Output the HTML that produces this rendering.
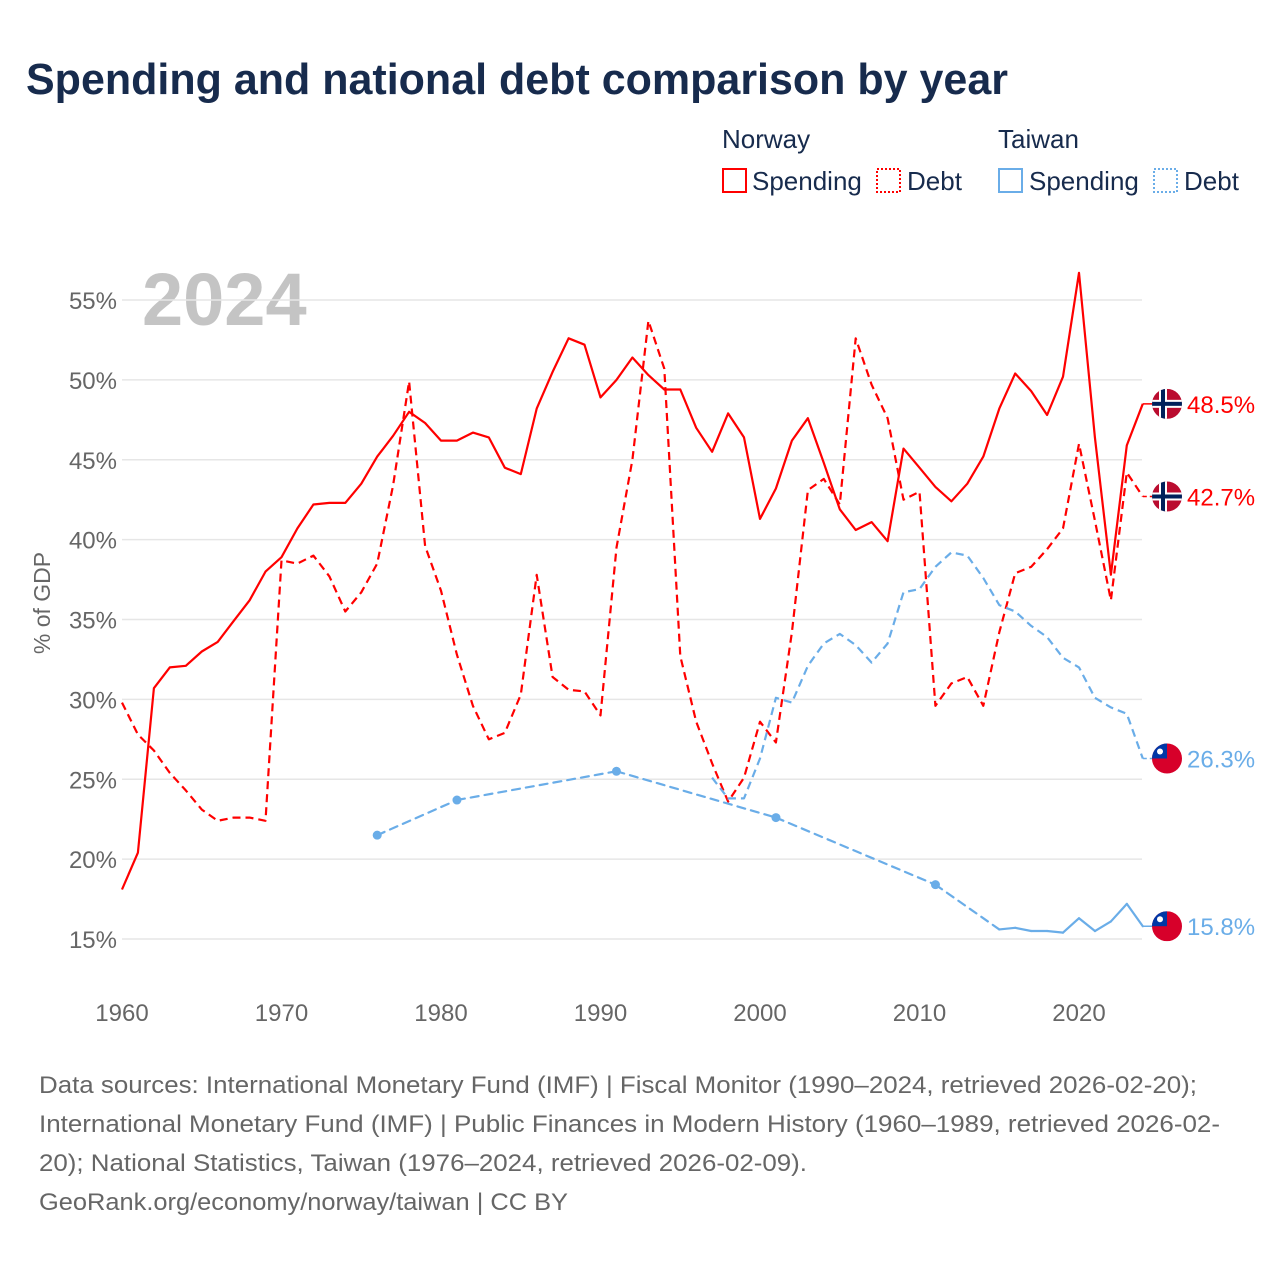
<!DOCTYPE html>
<html><head><meta charset="utf-8"><style>
body{margin:0;background:#fff;}
svg text{font-family:"Liberation Sans","Noto Sans CJK TC",sans-serif;}
</style></head><body>
<svg id="chart" width="1280" height="1280" viewBox="0 0 1280 1280" xmlns="http://www.w3.org/2000/svg">
<text x="26" y="94" font-size="44" font-weight="bold" fill="#172b4d" textLength="982" lengthAdjust="spacingAndGlyphs">Spending and national debt comparison by year</text>
<g font-size="26" fill="#172b4d">
<text x="722" y="148">Norway</text>
<text x="998" y="148">Taiwan</text>
<g><rect x="723" y="169" width="23" height="23" fill="none" stroke="#f00" stroke-width="2"/><text x="752" y="190">Spending</text></g>
<g><rect x="877" y="169" width="23" height="23" fill="none" stroke="#f00" stroke-width="2" stroke-dasharray="2,2"/><text x="907" y="190">Debt</text></g>
<g><rect x="999" y="169" width="23" height="23" fill="none" stroke="#6aade8" stroke-width="2"/><text x="1029" y="190">Spending</text></g>
<g><rect x="1154" y="169" width="23" height="23" fill="none" stroke="#6aade8" stroke-width="2" stroke-dasharray="2,2"/><text x="1184" y="190">Debt</text></g>
</g>
<text x="142" y="325" font-size="74" font-weight="bold" fill="#c4c4c4">2024</text>
<g id="grid"></g>
<g id="series"></g>
<g id="ends"></g>
<text transform="translate(50,603) rotate(-90)" text-anchor="middle" font-size="23" fill="#666">% of GDP</text>
<g font-size="24" fill="#666">
<text x="39" y="1093" textLength="1158" lengthAdjust="spacingAndGlyphs">Data sources: International Monetary Fund (IMF) | Fiscal Monitor (1990–2024, retrieved 2026-02-20);</text>
<text x="39" y="1132" textLength="1181" lengthAdjust="spacingAndGlyphs">International Monetary Fund (IMF) | Public Finances in Modern History (1960–1989, retrieved 2026-02-</text>
<text x="39" y="1171" textLength="768" lengthAdjust="spacingAndGlyphs">20); National Statistics, Taiwan (1976–2024, retrieved 2026-02-09).</text>
<text x="39" y="1210" textLength="529" lengthAdjust="spacingAndGlyphs">GeoRank.org/economy/norway/taiwan | CC BY</text>
</g>
</svg>
<script>
const yTicks=[15,20,25,30,35,40,45,50,55];
const xTicks=[1960,1970,1980,1990,2000,2010,2020];
const norSpendYears=[];for(let y=1960;y<=2024;y++)norSpendYears.push(y);
const norSpending=[18.1,20.4,30.7,32.0,32.1,33.0,33.6,34.9,36.2,38.0,38.9,40.7,42.2,42.3,42.3,43.5,45.2,46.5,48.0,47.3,46.2,46.2,46.7,46.4,44.5,44.1,48.2,50.5,52.6,52.2,48.9,50.0,51.4,50.3,49.4,49.4,47.0,45.5,47.9,46.4,41.3,43.2,46.2,47.6,44.8,41.9,40.6,41.1,39.9,45.7,44.5,43.3,42.4,43.5,45.2,48.2,50.4,49.3,47.8,50.2,56.7,46.4,37.8,45.9,48.5];
const norDebt=[29.8,27.8,26.8,25.4,24.3,23.1,22.4,22.6,22.6,22.4,38.7,38.5,39.0,37.7,35.5,36.7,38.5,43.4,49.9,39.6,36.8,32.8,29.6,27.5,27.9,30.3,37.8,31.4,30.6,30.5,29.0,39.5,45.0,53.7,50.7,32.7,28.6,26.0,23.6,25.1,28.6,27.3,34.2,43.1,43.8,42.2,52.6,49.7,47.6,42.5,43.0,29.6,31.0,31.4,29.6,34.2,37.9,38.3,39.4,40.7,46.0,41.2,36.2,44.2,42.7];
const twDebtYears=[];for(let y=1997;y<=2024;y++)twDebtYears.push(y);
const twDebt=[25.1,23.8,23.8,26.3,30.1,29.8,32.1,33.5,34.1,33.4,32.3,33.5,36.7,36.9,38.3,39.2,39.0,37.6,35.9,35.5,34.6,33.9,32.6,32.0,30.1,29.5,29.1,26.3];
const twSpendYears=[1976,1981,1991,2001,2011,2015,2016,2017,2018,2019,2020,2021,2022,2023,2024];
const twSpending=[21.5,23.7,25.5,22.6,18.4,15.6,15.7,15.5,15.5,15.4,16.3,15.5,16.1,17.2,15.8];

const NS='http://www.w3.org/2000/svg';
const X=yr=>122+(yr-1960)*(957/60);
const Y=v=>939-(v-15)*(639/40);
function mk(t,a,p){const e=document.createElementNS(NS,t);for(const k in a)e.setAttribute(k,a[k]);p.appendChild(e);return e;}
const grid=document.getElementById('grid');
yTicks.forEach(v=>{
 const l=mk('line',{x1:122,x2:1142,y1:Y(v),y2:Y(v),stroke:'#e6e6e6','stroke-width':1.5},grid);
 
 
 const t=mk('text',{x:117,y:Y(v)+9,'text-anchor':'end','font-size':24,fill:'#666'},grid);t.textContent=v+'%';
 
 
});
xTicks.forEach(yr=>{
 const t=mk('text',{x:X(yr),y:1021,'text-anchor':'middle','font-size':24,fill:'#666'},grid);t.textContent=yr;
 
 
});
const ser=document.getElementById('series');
function line(years,vals,color,dash,name){
 const d=years.map((y,i)=>(i?'L':'M')+X(y).toFixed(1)+','+Y(vals[i]).toFixed(1)).join('');
 const p=mk('path',{d:d,fill:'none',stroke:color,'stroke-width':2.2,'stroke-linejoin':'round'},ser);
 if(dash)p.setAttribute('stroke-dasharray',dash);
 
 
}
line(norSpendYears,norSpending,'#f00',null,'norway-spending-line');
line(norSpendYears,norDebt,'#f00','8,5','norway-debt-line');
line(twDebtYears,twDebt,'#6aade8','8,5','taiwan-debt-line');
for(let i=1;i<twSpendYears.length;i++){
 const gap=twSpendYears[i]-twSpendYears[i-1]>1;
 const s=mk('line',{x1:X(twSpendYears[i-1]),y1:Y(twSpending[i-1]),x2:X(twSpendYears[i]),y2:Y(twSpending[i]),stroke:'#6aade8','stroke-width':2.2,'stroke-linecap':'round'},ser);
 if(gap)s.setAttribute('stroke-dasharray','8,6');
 
 
}
twSpendYears.forEach((y,i)=>{
 const prev=i>0&&y-twSpendYears[i-1]==1, next=i<twSpendYears.length-1&&twSpendYears[i+1]-y==1;
 if(!prev&&!next){const c=mk('circle',{cx:X(y),cy:Y(twSpending[i]),r:4.5,fill:'#6aade8'},ser);
 
 }
});
const ends=document.getElementById('ends');
function endLine(years,vals,color,dash){
 const last=vals[vals.length-1];
 const l=mk('line',{x1:X(years[years.length-1]),x2:1160,y1:Y(last),y2:Y(last),stroke:color,'stroke-width':1.5},ends);
 if(dash)l.setAttribute('stroke-dasharray','4,3');
 
 
}
function flag(kind,v,color,name){
 const cy=Y(v),cx=1167,g=mk('g',{},ends);
 
 
 mk('clipPath',{id:'c'+name},g);
 const cp=g.lastChild;mk('circle',{cx:cx,cy:cy,r:15},cp);
 const gg=mk('g',{'clip-path':'url(#c'+name+')'},g);
 if(kind==='no'){
  mk('rect',{x:cx-15,y:cy-15,width:30,height:30,fill:'#ba0c2f'},gg);
  mk('rect',{x:cx-15,y:cy-4,width:30,height:8,fill:'#fff'},gg);
  mk('rect',{x:cx-8,y:cy-15,width:8,height:30,fill:'#fff'},gg);
  mk('rect',{x:cx-15,y:cy-2,width:30,height:4,fill:'#00205b'},gg);
  mk('rect',{x:cx-6,y:cy-15,width:4,height:30,fill:'#00205b'},gg);
 }else{
  mk('rect',{x:cx-15,y:cy-15,width:30,height:30,fill:'#d7002a'},gg);
  mk('rect',{x:cx-15,y:cy-15,width:15,height:15,fill:'#0037a6'},gg);
  mk('circle',{cx:cx-7,cy:cy-7,r:3,fill:'#fff'},gg);
 }
 const t=mk('text',{x:1187,y:cy+9,'font-size':24,fill:color},ends);t.textContent=v.toFixed(1)+'%';
 
 
}
endLine(norSpendYears,norSpending,'#f00',null);
endLine(norSpendYears,norDebt,'#f00',1);
endLine(twDebtYears,twDebt,'#6aade8',1);
endLine(twSpendYears,twSpending,'#6aade8',null);
flag('no',norSpending[norSpending.length-1],'#f00','norway-spending');
flag('no',norDebt[norDebt.length-1],'#f00','norway-debt');
flag('tw',twDebt[twDebt.length-1],'#6aade8','taiwan-debt');
flag('tw',twSpending[twSpending.length-1],'#6aade8','taiwan-spending');
</script>
</body></html>
